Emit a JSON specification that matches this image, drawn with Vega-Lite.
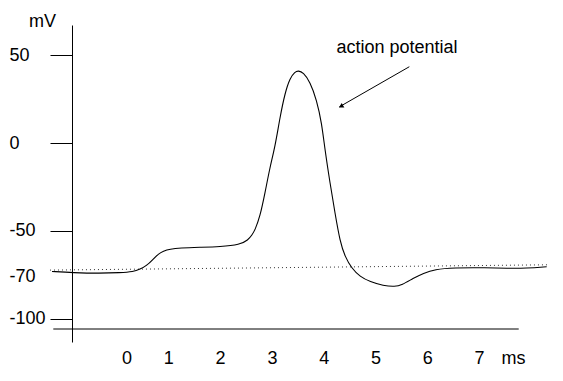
{
  "$schema": "https://vega.github.io/schema/vega-lite/v6.json",
  "width": 491,
  "height": 317,
  "autosize": "none",
  "padding": {"left": 72, "top": 25, "right": 0, "bottom": 39},
  "background": "white",
  "config": {
    "view": {"stroke": null},
    "font": "Liberation Sans",
    "axis": {"labelFont": "Liberation Sans", "titleFont": "Liberation Sans", "labelColor": "black", "titleColor": "black", "grid": false}
  },
  "datasets": {
    "curve": [
      {"t": -1.245, "v": -73.1},
      {"t": -0.84, "v": -73.8},
      {"t": -0.319, "v": -74.15},
      {"t": 0.068, "v": -73.8},
      {"t": 0.324, "v": -73.23},
      {"t": 0.454, "v": -71.87},
      {"t": 0.583, "v": -69.82},
      {"t": 0.71, "v": -66.0},
      {"t": 0.807, "v": -63.15},
      {"t": 0.903, "v": -61.45},
      {"t": 1.033, "v": -60.31},
      {"t": 1.226, "v": -59.74},
      {"t": 1.612, "v": -59.34},
      {"t": 1.998, "v": -59.0},
      {"t": 2.384, "v": -57.86},
      {"t": 2.539, "v": -55.18},
      {"t": 2.616, "v": -52.33},
      {"t": 2.674, "v": -49.49},
      {"t": 2.77, "v": -41.91},
      {"t": 2.867, "v": -28.42},
      {"t": 2.963, "v": -13.61},
      {"t": 3.06, "v": -2.22},
      {"t": 3.157, "v": 14.86},
      {"t": 3.253, "v": 28.53},
      {"t": 3.349, "v": 37.07},
      {"t": 3.446, "v": 40.6},
      {"t": 3.51, "v": 41.3},
      {"t": 3.606, "v": 40.2},
      {"t": 3.736, "v": 34.97},
      {"t": 3.865, "v": 24.54},
      {"t": 3.961, "v": 11.45},
      {"t": 4.025, "v": -3.93},
      {"t": 4.122, "v": -22.72},
      {"t": 4.218, "v": -39.8},
      {"t": 4.315, "v": -56.04},
      {"t": 4.412, "v": -64.69},
      {"t": 4.541, "v": -71.3},
      {"t": 4.701, "v": -76.08},
      {"t": 4.894, "v": -78.93},
      {"t": 5.151, "v": -81.21},
      {"t": 5.376, "v": -81.78},
      {"t": 5.506, "v": -80.81},
      {"t": 5.73, "v": -77.0},
      {"t": 5.923, "v": -74.15},
      {"t": 6.149, "v": -71.87},
      {"t": 6.502, "v": -70.96},
      {"t": 7.147, "v": -70.96},
      {"t": 7.533, "v": -71.3},
      {"t": 7.919, "v": -71.3},
      {"t": 8.305, "v": -70.39}
    ],
    "rest": [
      {"t": -1.284, "v": -72.32},
      {"t": 8.311, "v": -69.31}
    ],
    "xaxis": [
      {"t": -1.22, "t2": 7.765, "v": -105.87}
    ],
    "arrow": [
      {"t": 5.653, "v": 43.5, "t2": 4.3, "v2": 20.6}
    ],
    "head": [
      {"t": 4.335, "v": 20.9}
    ],
    "note": [
      {"t": 5.415, "v": 51.3, "label": "action potential"}
    ]
  },
  "encoding": {
    "x": {
      "field": "t",
      "type": "quantitative",
      "scale": {"domain": [-0.859, 8.62], "nice": false, "zero": false},
      "axis": {
        "values": [0, 1, 2, 3, 4, 5, 6, 7],
        "domain": false,
        "ticks": false,
        "labelFontSize": 18,
        "labelBaseline": "middle",
        "labelPadding": 16,
        "labelFlush": false,
        "labelOverlap": false,
        "labelOffset": {"condition": {"test": "datum.value == 0", "value": 10}, "value": 0},
        "title": "ms",
        "titleFontSize": 18,
        "titleFontWeight": "normal",
        "titleX": 441,
        "titleY": 16,
        "titleAlign": "center",
        "titleBaseline": "middle",
        "titleAnchor": null
      }
    },
    "y": {
      "field": "v",
      "type": "quantitative",
      "scale": {"domain": [-113.27, 67.26], "nice": false, "zero": false},
      "axis": {
        "values": [50, 0, -50, -70, -100],
        "labelExpr": "datum.value < 0 ? '-' + abs(datum.value) : '' + datum.value",
        "domain": true,
        "domainColor": "black",
        "domainWidth": 1,
        "ticks": true,
        "tickColor": "black",
        "tickSize": 22,
        "tickWidth": 1,
        "tickOpacity": {"condition": {"test": "datum.value == -70", "value": 0}, "value": 1},
        "labelFontSize": 18,
        "labelAlign": "left",
        "labelBaseline": "middle",
        "labelPadding": 41,
        "labelFlush": false,
        "labelOverlap": false,
        "labelOffset": {"condition": {"test": "datum.value == -70", "value": 10}, "value": 0},
        "title": "mV",
        "titleAngle": 0,
        "titleFontSize": 18,
        "titleFontWeight": "normal",
        "titleX": -30,
        "titleY": -4,
        "titleAlign": "center",
        "titleBaseline": "middle",
        "titleAnchor": null
      }
    }
  },
  "layer": [
    {
      "data": {"name": "rest"},
      "mark": {"type": "line", "color": "#333333", "strokeWidth": 1, "strokeDash": [1, 3]},
      "encoding": {}
    },
    {
      "data": {"name": "curve"},
      "mark": {"type": "line", "color": "black", "strokeWidth": 1.1, "interpolate": "basis"},
      "encoding": {}
    },
    {
      "data": {"name": "xaxis"},
      "mark": {"type": "rule", "color": "black", "strokeWidth": 1},
      "encoding": {"x2": {"field": "t2"}}
    },
    {
      "data": {"name": "arrow"},
      "mark": {"type": "rule", "color": "black", "strokeWidth": 1},
      "encoding": {"x2": {"field": "t2"}, "y2": {"field": "v2"}}
    },
    {
      "data": {"name": "head"},
      "mark": {"type": "point", "shape": "triangle-up", "filled": true, "color": "black", "size": 28, "angle": 239, "opacity": 1},
      "encoding": {}
    },
    {
      "data": {"name": "note"},
      "mark": {"type": "text", "fontSize": 18, "align": "center", "baseline": "alphabetic", "color": "black", "font": "Liberation Sans"},
      "encoding": {"text": {"field": "label"}}
    }
  ]
}
